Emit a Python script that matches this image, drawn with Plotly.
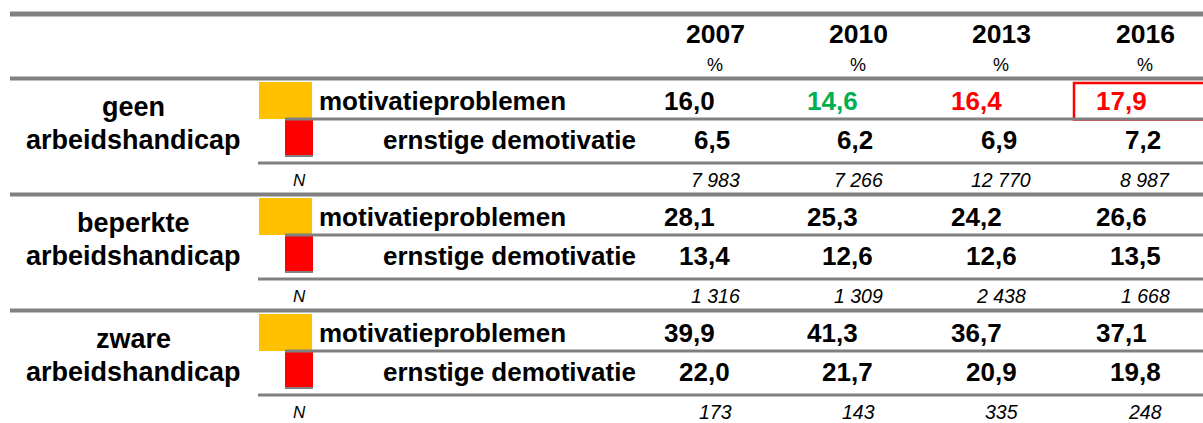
import plotly.graph_objects as go

# ---- data ----
years = ["2007", "2010", "2013", "2016"]
unit_row = ["%", "%", "%", "%"]
group_first = ["geen", "beperkte", "zware"]
group_second = ["arbeidshandicap", "arbeidshandicap", "arbeidshandicap"]
row_labels = ["motivatieproblemen", "ernstige demotivatie"]
n_label = "N"

motivatie_geen = [16.0, 14.6, 16.4, 17.9]
motivatie_beperkt = [28.1, 25.3, 24.2, 26.6]
motivatie_zwaar = [39.9, 41.3, 36.7, 37.1]

demotivatie_geen = [6.5, 6.2, 6.9, 7.2]
demotivatie_beperkt = [13.4, 12.6, 12.6, 13.5]
demotivatie_zwaar = [22.0, 21.7, 20.9, 19.8]

n_geen = [7983, 7266, 12770, 8987]
n_beperkt = [1316, 1309, 2438, 1668]
n_zwaar = [173, 143, 335, 248]

motivatie = [motivatie_geen, motivatie_beperkt, motivatie_zwaar]
demotivatie = [demotivatie_geen, demotivatie_beperkt, demotivatie_zwaar]
n_values = [n_geen, n_beperkt, n_zwaar]

# ---- styling / layout ----
W, H = 1203, 423
FONT = "Arial, Liberation Sans, sans-serif"
GRAY = "#808080"
YELLOW = "#FFC000"
RED = "#FF0000"
GREEN = "#00B050"
BLACK = "#000000"

col_center = [715, 858, 1001, 1145]
col_left = [663, 806, 950, 1095]
col_right = [731, 874, 1018, 1162]
group_top = [78, 194, 310]

motivatie_colors = [[BLACK, GREEN, RED, RED], [BLACK] * 4, [BLACK] * 4]


def fmt_pct(v):
    return f"{v:.1f}".replace(".", ",")


def fmt_n(v):
    return f"{v:,}".replace(",", " ")


annotations = []
shapes = []


def txt(x, y, s, size, color=BLACK, bold=False, italic=False, xanchor="center"):
    t = s
    if bold:
        t = f"<b>{t}</b>"
    if italic:
        t = f"<i>{t}</i>"
    annotations.append(dict(x=x, y=y, xref="x", yref="y", text=t, showarrow=False,
                            xanchor=xanchor, yanchor="middle",
                            font=dict(family=FONT, size=size, color=color),
                            borderpad=0))


def hline(y, x0, x1, width, color=GRAY):
    shapes.append(dict(type="line", xref="x", yref="y", x0=x0, x1=x1, y0=y, y1=y,
                       line=dict(color=color, width=width)))


def rect(x0, x1, y0, y1, fill=None, line_color=None, line_width=0):
    shapes.append(dict(type="rect", xref="x", yref="y", x0=x0, x1=x1, y0=y0, y1=y1,
                       fillcolor=fill if fill else "rgba(0,0,0,0)",
                       line=dict(color=line_color if line_color else "rgba(0,0,0,0)",
                                 width=line_width), layer="below"))


# header
hline(14, 10, W + 5, 5)
for i, y in enumerate(years):
    txt(col_center[i], 34, y, 26.5, bold=True)
    txt(col_center[i], 65, unit_row[i], 18)
hline(78.5, 10, W + 5, 4)

for g in range(3):
    t = group_top[g]
    # legend swatches
    rect(259, 312, t + 4, t + 41, fill=YELLOW)
    rect(285, 313, t + 42, t + 78, fill=RED)
    hline(t + 41, 285, W + 5, 3)
    hline(t + 78, 285, 313, 2)
    hline(t + 85, 258, W + 5, 3)
    if g < 2:
        hline(t + 116.5, 10, W + 5, 4)

    txt(133, t + 29, group_first[g], 27, bold=True)
    txt(133, t + 62, group_second[g], 27, bold=True)
    txt(318, t + 23, row_labels[0], 26, bold=True, xanchor="left")
    txt(637, t + 62, row_labels[1], 26, bold=True, xanchor="right")
    txt(299, t + 102, n_label, 17, italic=True)

    for i in range(4):
        txt(col_left[i], t + 23, fmt_pct(motivatie[g][i]), 26,
            color=motivatie_colors[g][i], bold=True, xanchor="left")
        txt(col_right[i], t + 62, fmt_pct(demotivatie[g][i]), 26, bold=True, xanchor="right")
        txt(col_center[i], t + 102, fmt_n(n_values[g][i]), 19.5, italic=True)

# highlight box around last value (open to the right edge)
rect(1074, 1400, 83, 119.5, line_color=RED, line_width=2.5)

fig = go.Figure()
fig.add_trace(go.Scatter(x=[0, W], y=[0, H], mode="markers",
                         marker=dict(opacity=0), hoverinfo="skip", showlegend=False))
fig.update_layout(
    width=W, height=H, margin=dict(l=0, r=0, t=0, b=0),
    paper_bgcolor="white", plot_bgcolor="white",
    xaxis=dict(range=[0, W], visible=False, fixedrange=True),
    yaxis=dict(range=[H, 0], visible=False, fixedrange=True),
    shapes=shapes, annotations=annotations, showlegend=False,
)
fig.write_html(
    "out.html",
    config={"displayModeBar": False},
    post_script="document.body.style.margin='0';document.documentElement.style.overflow='hidden';",
)
